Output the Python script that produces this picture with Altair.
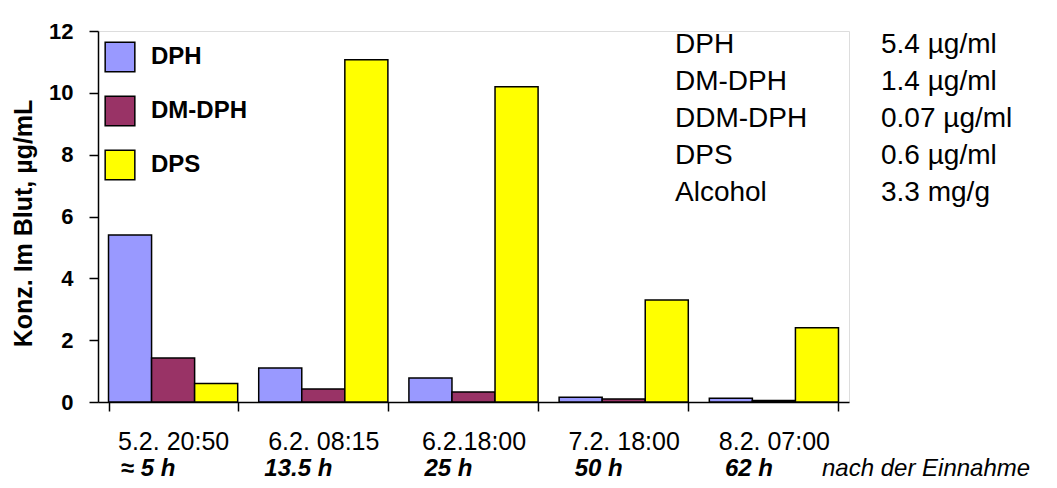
import altair as alt
import pandas as pd

dates = ["5.2. 20:50", "6.2. 08:15", "6.2.18:00", "7.2. 18:00", "8.2. 07:00"]
hours = ["\u2248 5 h", "13.5 h", "25 h", "50 h", "62 h"]
series = ["DPH", "DM-DPH", "DPS"]
dph = [5.4, 1.1, 0.78, 0.15, 0.12]
dm_dph = [1.42, 0.42, 0.32, 0.1, 0.05]
dps = [0.6, 11.07, 10.2, 3.3, 2.4]
colors = ["#9999FF", "#993366", "#FFFF00"]
note_names = ["DPH", "DM-DPH", "DDM-DPH", "DPS", "Alcohol"]
note_values = ["5.4 \u00b5g/ml", "1.4 \u00b5g/ml", "0.07 \u00b5g/ml", "0.6 \u00b5g/ml", "3.3 mg/g"]
y_ticks = [0, 2, 4, 6, 8, 10, 12]

rows = []
for s, vals in zip(series, [dph, dm_dph, dps]):
    for d, v in zip(dates, vals):
        rows.append({"date": d, "series": s, "value": v})
df = pd.DataFrame(rows)
hdf = pd.DataFrame({"date": dates, "hours": hours})

FONT = "Liberation Sans"
W, H = 751, 371

x_enc = alt.X(
    "date:N", sort=dates, title=None,
    scale=alt.Scale(paddingInner=0.14, paddingOuter=0.07),
    axis=alt.Axis(labelAngle=0, labelFontSize=25, labelFont=FONT, labelColor="black",
                  tickBand="extent", tickSize=9, tickColor="black", tickWidth=1.5,
                  domainColor="black", domainWidth=1.5, labelPadding=18, grid=False),
)

bars = alt.Chart(df).mark_bar(stroke="black", strokeWidth=1.5).encode(
    x=x_enc,
    xOffset=alt.XOffset("series:N", sort=series),
    y=alt.Y("value:Q", scale=alt.Scale(domain=[0, 12]),
            axis=alt.Axis(values=y_ticks, labelFontSize=22, labelFontWeight="bold", labelFont=FONT,
                          labelColor="black", tickSize=9, tickColor="black", tickWidth=1.5,
                          domainColor="black", domainWidth=1.5, labelPadding=16, grid=False,
                          title="Konz. Im Blut,  \u00b5g/mL", titleFont=FONT, titleFontSize=25,
                          titleFontWeight="bold", titleColor="black", titleAngle=-90,
                          titleX=-75, titleY=192, titleAlign="center", titleBaseline="middle")),
    color=alt.Color("series:N", sort=series,
                    scale=alt.Scale(domain=series, range=colors),
                    legend=alt.Legend(title=None, orient="none", legendX=6, legendY=10,
                                      symbolType="square", symbolSize=880,
                                      symbolStrokeColor="black", symbolStrokeWidth=1.5,
                                      labelFontSize=24, labelFontWeight="bold", labelFont=FONT,
                                      labelColor="black", labelOffset=15, rowPadding=18)),
)

hours_layer = alt.Chart(hdf).mark_text(
    font=FONT, fontSize=24, fontWeight="bold", fontStyle="italic", color="black",
    baseline="middle", dx=-25,
).encode(x=alt.X("date:N", sort=dates), y=alt.value(H + 67), text="hours:N")

after = alt.Chart(hdf.head(1)).mark_text(
    font=FONT, fontSize=24, fontStyle="italic", color="black",
    align="left", baseline="middle", text="nach der Einnahme",
).encode(x=alt.value(W - 27), y=alt.value(H + 67))

notes = []
for i, (n, v) in enumerate(zip(note_names, note_values)):
    notes.append(alt.Chart(hdf.head(1)).mark_text(
        font=FONT, fontSize=28, color="black", align="left", baseline="middle", text=n,
    ).encode(x=alt.value(577), y=alt.value(14 + i * 37)))
    notes.append(alt.Chart(hdf.head(1)).mark_text(
        font=FONT, fontSize=28, color="black", align="left", baseline="middle", text=v,
    ).encode(x=alt.value(783), y=alt.value(14 + i * 37)))

chart = alt.layer(bars, hours_layer, after, *notes).properties(
    width=W, height=H,
    autosize=alt.AutoSizeParams(type="none"),
    padding={"left": 90, "top": 23, "right": 200, "bottom": 78},
).configure_view(stroke=None).configure(background="white")

chart.save("out.html", embed_options={"renderer": "svg", "actions": False})
